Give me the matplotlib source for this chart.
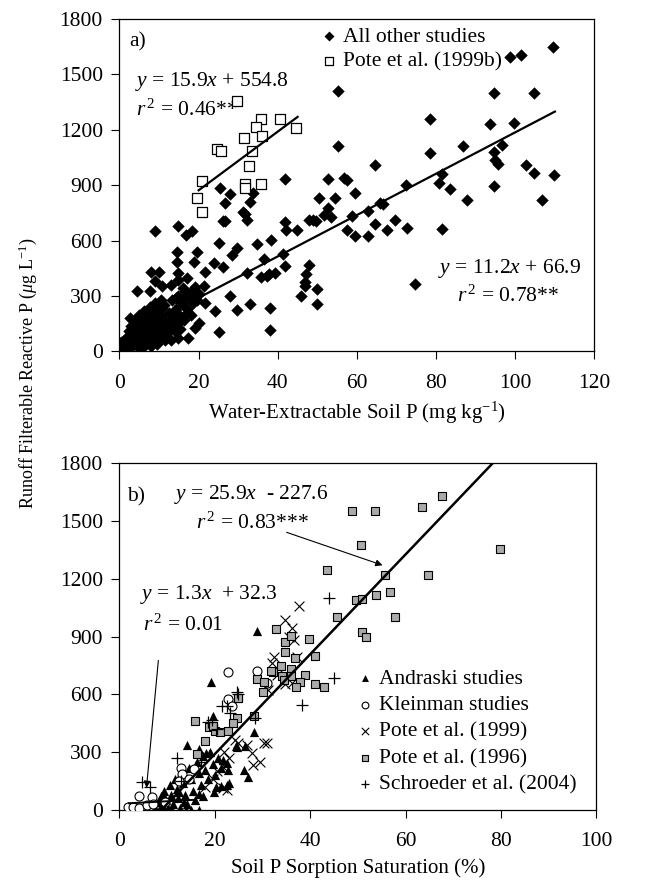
import matplotlib

matplotlib.use("Agg")
import matplotlib.pyplot as plt
import numpy as np

plt.rcParams["font.family"] = ["Liberation Serif", "DejaVu Serif"]
plt.rcParams["mathtext.fontset"] = "custom"
plt.rcParams["mathtext.rm"] = "Liberation Serif"
plt.rcParams["mathtext.it"] = "Liberation Serif:italic"

# ---- panel a: water-extractable soil P ----
other_x = [0.2, 0.5, 0.8, 1.0, 1.3, 1.5, 1.8, 2.0, 2.2, 2.4, 2.6, 2.8, 3.0, 3.2, 3.4, 3.6, 3.8, 4.0,
           4.2, 4.4, 4.6, 4.8, 5.0, 5.2, 5.4, 5.6, 5.8, 6.0, 6.2, 6.4, 6.6, 6.8, 7.0, 7.2, 7.4, 7.6,
           7.8, 8.0, 8.2, 8.4, 8.6, 8.8, 9.0, 9.2, 9.4, 9.6, 9.8, 10.0, 10.3, 10.6, 10.9, 11.2, 11.5,
           11.8, 12.1, 12.4, 12.7, 13.0, 13.3, 13.6, 13.9, 14.2, 14.5, 14.8, 15.1, 15.4, 15.8, 16.2,
           16.6, 17.0, 17.5, 18.0, 18.5, 19.0, 19.5, 20.0,
           9.0, 14.9, 16.8, 18.4, 25.1, 14.5, 19.6, 26.2, 28.4, 23.8, 18.8, 14.5, 26.2, 8.0, 10.0,
           14.7, 21.7, 9.0, 14.8, 17.0, 4.5, 7.7, 10.8, 13.1, 16.1, 17.8, 21.3, 27.9, 10.4, 14.3,
           16.1, 19.4, 21.7, 24.2, 7.7, 4.5, 2.6, 10.8, 14.0, 16.3, 19.0, 20.2, 14.7, 17.4, 25.2,
           1.4, 0.2, 2.0,
           109.4, 98.7, 101.4, 55.3, 94.5, 104.6, 78.5, 93.5, 99.7, 55.2, 86.7, 96.6, 78.5, 94.5,
           94.9, 95.6, 64.6, 102.7, 104.6, 109.7, 81.6, 80.6, 83.6, 94.5, 87.8, 106.7, 72.4, 57.6,
           59.6, 52.6, 41.7, 62.8, 65.9, 66.6, 50.5, 52.6, 51.7, 53.5, 58.7, 57.6, 59.6, 62.7, 64.6,
           67.6, 69.7, 72.6, 81.6, 74.7, 49.0, 47.8, 49.7, 44.8, 41.9, 42.0, 41.3, 41.7, 38.2, 34.7,
           36.4, 37.7, 39.3, 37.9, 37.9, 32.2, 32.9, 29.7, 29.7, 47.8, 47.1, 46.8, 46.9, 45.9, 49.9,
           49.9, 35.8, 37.2, 25.4, 27.8, 26.7, 26.7, 31.3, 31.6, 32.2, 33.0, 33.7, 54.5, 56.6]
other_y = [5, 20, 40, 10, 60, 30, 80, 15, 50, 110, 70, 25, 140, 90, 40, 120, 60, 170,
           100, 30, 140, 80, 200, 50, 120, 160, 20, 100, 220, 70, 140, 40, 180, 110, 60, 240,
           150, 30, 90, 200, 130, 60, 260, 170, 100, 40, 220, 140, 80, 190, 120, 250, 60,
           160, 100, 210, 140, 60, 280, 180, 110, 230, 150, 300, 200, 120, 260, 170,
           330, 230, 300, 200, 260, 350, 280, 310,
           650, 677, 628, 654, 587, 538, 536, 705, 524, 478, 482, 487, 460, 433, 433,
           424, 429, 379, 388, 397, 328, 325, 352, 361, 346, 316, 352, 301, 280, 289,
           280, 298, 262, 217, 226, 171, 180, 235, 217, 190, 126, 153, 72, 72, 108,
           63, 27, 18,
           1650, 1596, 1605, 1410, 1397, 1397, 1261, 1234, 1238, 1113, 1113, 1117, 1072, 1081,
           1039, 1014, 1010, 1010, 967, 956, 963, 913, 878, 895, 819, 819, 904, 931,
           858, 936, 934, 761, 804, 797, 830, 779, 737, 728, 732, 656, 627, 627, 692,
           656, 710, 670, 661, 363, 710, 710, 707, 656, 701, 656, 530, 464, 605, 584,
           502, 421, 425, 237, 114, 427, 255, 562, 222, 466, 417, 376, 354, 298, 340,
           258, 403, 410, 887, 855, 804, 707, 755, 743, 710, 810, 858, 831, 941]

pote99b_x = [29.7, 35.7, 40.6, 34.5, 44.7, 36.1, 31.5, 24.6, 25.6, 33.6, 32.7, 20.8, 31.6, 31.6,
             35.7, 19.7, 20.8]
pote99b_y = [1356, 1258, 1258, 1214, 1209, 1166, 1157, 1095, 1086, 1086, 1005, 922, 907, 886,
             907, 831, 754]

# ---- panel b: soil P sorption saturation ----
andraski_x = [28.9, 19.2, 28.1, 14.1, 19.6, 24.6, 26.0, 27.0, 16.7, 18.1, 24.4, 26.4, 22.7, 21.2,
              19.8, 22.9, 16.6, 12.4, 9.1, 9.1, 14.0, 16.6, 22.5, 22.5,
              7.5, 8.0, 8.3, 8.6, 9.0, 9.4, 9.8, 10.2, 10.5, 10.9, 11.3, 11.6, 12.0, 12.3, 12.7,
              13.0, 13.4, 13.8, 14.2, 14.6, 15.0, 15.4, 15.8, 16.2, 16.7, 17.1, 17.6, 18.0, 18.5,
              19.0, 19.5, 20.0, 20.6, 21.2, 21.8, 15.0, 17.5, 20.3, 13.5, 11.0]
andraski_y = [930, 666, 407, 337, 485, 329, 208, 173, 317, 296, 331, 331, 208, 125,
              93, 138, 85, 93, 76, 14, 0, 0, 242, 130,
              10, 40, 0, 70, 20, 100, 50, 10, 130, 80, 30, 160, 110, 60, 10, 190,
              140, 80, 30, 220, 160, 100, 50, 250, 190, 130, 280, 210, 160, 300,
              240, 180, 270, 220, 260, 0, 70, 120, 40, 0]

kleinman_x = [22.8, 28.8, 30.9, 22.8, 12.9, 13.1, 15.7, 4.0, 1.7, 2.9, 4.0, 5.7, 6.8, 7.0, 12.5,
              14.5, 9.5, 23.5]
kleinman_y = [718, 723, 661, 575, 220, 185, 211, 73, 17, 17, 12, 26, 66, 30, 150,
              160, 40, 540]

pote99_x = [37.7, 34.8, 36.1, 36.5, 37.2, 32.3, 32.0, 31.2, 34.8, 36.1, 30.2, 30.9, 29.5, 28.0,
            27.7, 26.7, 24.2, 24.8, 21.8, 22.5, 20.5, 21.5, 23.0, 19.5, 18.0, 22.0, 35.5, 33.0]
pote99_y = [1056, 987, 943, 883, 796, 796, 762, 623, 654, 658, 346, 346, 251, 234,
            294, 337, 363, 350, 112, 104, 200, 230, 270, 160, 120, 300, 900, 700]

pote96_x = [67.7, 63.5, 48.7, 53.6, 50.6, 79.7, 43.6, 55.7, 64.7, 56.7, 53.7, 49.6, 50.8, 45.7,
            57.8, 50.8, 51.7, 32.8, 34.7, 39.8, 35.9, 34.8, 40.9, 36.8, 33.9, 35.9, 32.1, 34.0,
            28.8, 35.9, 38.9, 30.3, 34.4, 37.9, 41.0, 42.9, 37.0, 30.0, 24.9, 24.6, 28.1, 15.9,
            18.7, 20.0, 21.1, 22.8, 23.9, 17.9, 16.2, 19.5, 24.8, 31.7]
pote96_y = [1627, 1570, 1549, 1549, 1376, 1353, 1246, 1217, 1220, 1130, 1113, 1090, 1096, 999,
            1000, 922, 900, 938, 871, 888, 902, 819, 800, 787, 749, 732, 715, 697,
            680, 697, 701, 663, 675, 663, 652, 640, 640, 611, 580, 479, 485, 464,
            429, 410, 407, 412, 450, 358, 289, 434, 582, 720]

schroeder_x = [44.0, 45.0, 38.2, 24.6, 21.4, 23.2, 19.3, 28.4, 12.0, 4.7, 6.4, 24.8, 22.6, 18.5,
               13.0, 17.0, 20.5]
schroeder_y = [1099, 684, 545, 614, 537, 502, 467, 479, 268, 147, 118, 600, 540, 455,
               150, 250, 420]

TICK = 15.5
TXT = 15.5
LAB = 15

fig = plt.figure(figsize=(6.62, 8.86), dpi=100)
ax_a = fig.add_axes([0.1805, 0.6033, 0.7175, 0.3752])
ax_b = fig.add_axes([0.1805, 0.0858, 0.7205, 0.3916])

for ax in (ax_a, ax_b):
    ax.set_ylim(0, 1800)
    ax.set_yticks(np.arange(0, 1801, 300))
    ax.tick_params(labelsize=TICK, length=6, width=0.8, pad=6, direction="out",
                   top=False, right=False)
    ax.tick_params(axis="x", pad=10)
    for s in ax.spines.values():
        s.set_linewidth(0.9)

# panel a
ax_a.set_xlim(0, 120)
ax_a.set_xticks(np.arange(0, 121, 20))
ax_a.scatter(other_x, other_y, marker="D", s=40, color="black", lw=0, zorder=3,
             label="All other studies")
ax_a.scatter(pote99b_x, pote99b_y, marker="s", s=44, facecolor="white", edgecolor="black",
             lw=0.9, zorder=4, label="Pote et al. (1999b)")
xa = np.array([0, 110])
ax_a.plot(xa, 11.2 * xa + 66.9, color="black", lw=1.6, zorder=5)
xb = np.array([20, 45])
ax_a.plot(xb, 15.9 * xb + 554.8, color="black", lw=1.6, zorder=5)
ax_a.text(2.5, 1675, "a)", fontsize=TXT, va="center")
ax_a.text(4.0, 1460, r"$y$ = 15.9$x$ + 554.8", fontsize=TXT, va="center")
ax_a.text(4.2, 1305, r"$r^{\,2}$ = 0.46**", fontsize=TXT, va="center")
ax_a.text(116.5, 448, r"$y$ = 11.2$x$ + 66.9", fontsize=TXT, va="center", ha="right")
ax_a.text(111, 300, r"$r^{\,2}$ = 0.78**", fontsize=TXT, va="center", ha="right")
ax_a.legend(loc="upper left", bbox_to_anchor=(0.395, 1.022), frameon=False, fontsize=TXT,
            handlelength=0.6, handletextpad=0.35, borderpad=0.2, labelspacing=0.22,
            markerscale=0.8)
ax_a.set_xlabel("Water-Extractable Soil P (mg kg$^{-1}$)", fontsize=LAB, labelpad=5)

# panel b
ax_b.set_xlim(0, 100)
ax_b.set_xticks(np.arange(0, 101, 20))
ax_b.scatter(andraski_x, andraski_y, marker="^", s=44, color="black", lw=0, zorder=3,
             label="Andraski studies")
ax_b.scatter(kleinman_x, kleinman_y, marker="o", s=42, facecolor="white", edgecolor="black",
             lw=0.8, zorder=3, label="Kleinman studies")
ax_b.scatter(pote99_x, pote99_y, marker="x", s=50, color="black", lw=0.8, zorder=3,
             label="Pote et al. (1999)")
ax_b.scatter(pote96_x, pote96_y, marker="s", s=40, facecolor="#aaaaaa", edgecolor="black",
             lw=0.8, zorder=3, label="Pote et al. (1996)")
ax_b.scatter(schroeder_x, schroeder_y, marker="+", s=65, color="black", lw=0.9, zorder=3,
             label="Schroeder et al. (2004)")
xc = np.array([8.0, 80.0])
ax_b.plot(xc, 25.9 * xc - 227.6, color="black", lw=1.8, zorder=5)
xd = np.array([2.0, 16.0])
ax_b.plot(xd, 1.3 * xd + 32.3, color="black", lw=1.4, zorder=5)
ax_b.text(1.5, 1625, "b)", fontsize=TXT, va="center")
ax_b.text(11.5, 1635, r"$y$ = 25.9$x$  - 227.6", fontsize=TXT, va="center")
ax_b.text(16.0, 1490, r"$r^{\,2}$ = 0.83***", fontsize=TXT, va="center")
ax_b.text(4.3, 1118, r"$y$ = 1.3$x$  + 32.3", fontsize=TXT, va="center")
ax_b.text(5.0, 960, r"$r^{\,2}$ = 0.01", fontsize=TXT, va="center")
ax_b.annotate("", xy=(55.7, 1265), xytext=(34.5, 1445),
              arrowprops=dict(arrowstyle="-|>", color="black", lw=0.8, mutation_scale=10))
ax_b.annotate("", xy=(5.6, 100), xytext=(8.2, 790),
              arrowprops=dict(arrowstyle="-|>", color="black", lw=0.8, mutation_scale=10))
ax_b.legend(loc="lower left", bbox_to_anchor=(0.47, 0.0), frameon=False, fontsize=TXT,
            handlelength=0.6, handletextpad=0.35, borderpad=0.2, labelspacing=0.3,
            markerscale=0.75)
ax_b.set_xlabel("Soil P Sorption Saturation (%)", fontsize=LAB, labelpad=5)

fig.text(0.042, 0.579, r"Runoff Filterable Reactive P ($\mu$g L$^{-1}$)", fontsize=13,
         rotation=90, ha="center", va="center")

fig.savefig("out.png", dpi=100, facecolor="white")
